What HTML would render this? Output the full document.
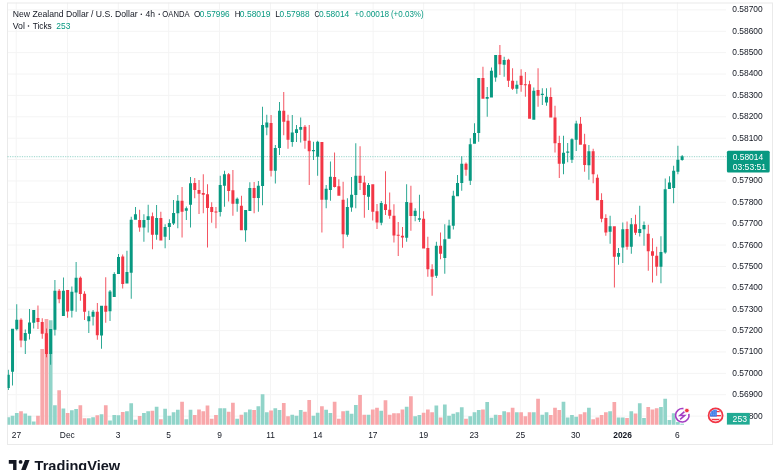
<!DOCTYPE html><html><head><meta charset="utf-8"><style>
html,body{margin:0;padding:0;background:#fff;width:780px;height:470px;overflow:hidden;}
svg{display:block;position:absolute;left:0;top:0;will-change:transform;}
text{font-family:"Liberation Sans", sans-serif;}
</style></head><body>
<svg width="780" height="470" viewBox="0 0 780 470">
<defs><clipPath id="pc"><rect x="7.5" y="2.5" width="719" height="422.5"/></clipPath></defs>
<path d="M7.5 9.90H726M7.5 31.28H726M7.5 52.66H726M7.5 74.04H726M7.5 95.42H726M7.5 116.80H726M7.5 138.18H726M7.5 159.56H726M7.5 180.94H726M7.5 202.32H726M7.5 223.70H726M7.5 245.08H726M7.5 266.46H726M7.5 287.84H726M7.5 309.22H726M7.5 330.60H726M7.5 351.98H726M7.5 373.36H726M7.5 394.74H726M7.5 416.12H726M16.2 2.5V425M67.5 2.5V425M118.3 2.5V425M168.7 2.5V425M219.5 2.5V425M270.5 2.5V425M317.5 2.5V425M373.1 2.5V425M423.6 2.5V425M474.1 2.5V425M520.4 2.5V425M575.6 2.5V425M622.6 2.5V425M677.4 2.5V425" stroke="#f4f4f4" stroke-width="1" fill="none"/>
<rect x="7.5" y="3" width="765" height="441.5" fill="none" stroke="#eaeaea" stroke-width="1"/>
<g clip-path="url(#pc)">
<path d="M6.45 417.20h3.70V424.70h-3.70ZM10.69 415.80h3.70V424.70h-3.70ZM14.93 413.00h3.70V424.70h-3.70ZM23.40 413.40h3.70V424.70h-3.70ZM27.64 415.80h3.70V424.70h-3.70ZM31.88 421.50h3.70V424.70h-3.70ZM48.83 320.20h3.70V424.70h-3.70ZM53.07 405.20h3.70V424.70h-3.70ZM61.54 408.40h3.70V424.70h-3.70ZM70.02 410.20h3.70V424.70h-3.70ZM74.26 409.00h3.70V424.70h-3.70ZM86.97 418.30h3.70V424.70h-3.70ZM91.21 417.30h3.70V424.70h-3.70ZM99.69 414.30h3.70V424.70h-3.70ZM108.16 420.50h3.70V424.70h-3.70ZM112.40 414.90h3.70V424.70h-3.70ZM116.64 415.30h3.70V424.70h-3.70ZM125.11 411.20h3.70V424.70h-3.70ZM129.35 403.20h3.70V424.70h-3.70ZM133.59 419.70h3.70V424.70h-3.70ZM142.07 413.00h3.70V424.70h-3.70ZM146.30 411.20h3.70V424.70h-3.70ZM154.78 406.70h3.70V424.70h-3.70ZM163.26 408.80h3.70V424.70h-3.70ZM167.49 415.80h3.70V424.70h-3.70ZM171.73 412.20h3.70V424.70h-3.70ZM175.97 409.70h3.70V424.70h-3.70ZM184.45 419.20h3.70V424.70h-3.70ZM188.68 409.70h3.70V424.70h-3.70ZM218.35 408.30h3.70V424.70h-3.70ZM222.59 408.30h3.70V424.70h-3.70ZM235.30 418.70h3.70V424.70h-3.70ZM243.78 412.20h3.70V424.70h-3.70ZM248.02 409.50h3.70V424.70h-3.70ZM256.49 406.20h3.70V424.70h-3.70ZM260.73 394.20h3.70V424.70h-3.70ZM264.97 412.20h3.70V424.70h-3.70ZM273.44 408.30h3.70V424.70h-3.70ZM277.68 410.00h3.70V424.70h-3.70ZM290.40 414.70h3.70V424.70h-3.70ZM294.63 415.80h3.70V424.70h-3.70ZM298.87 410.00h3.70V424.70h-3.70ZM311.59 415.80h3.70V424.70h-3.70ZM315.82 412.80h3.70V424.70h-3.70ZM324.30 409.70h3.70V424.70h-3.70ZM328.54 413.00h3.70V424.70h-3.70ZM345.49 410.80h3.70V424.70h-3.70ZM349.73 413.70h3.70V424.70h-3.70ZM353.97 405.00h3.70V424.70h-3.70ZM366.68 414.70h3.70V424.70h-3.70ZM379.39 410.80h3.70V424.70h-3.70ZM404.82 406.70h3.70V424.70h-3.70ZM413.30 416.20h3.70V424.70h-3.70ZM417.54 415.00h3.70V424.70h-3.70ZM434.49 405.50h3.70V424.70h-3.70ZM442.96 404.50h3.70V424.70h-3.70ZM447.20 415.80h3.70V424.70h-3.70ZM451.44 413.70h3.70V424.70h-3.70ZM455.68 412.20h3.70V424.70h-3.70ZM459.92 407.20h3.70V424.70h-3.70ZM468.39 416.20h3.70V424.70h-3.70ZM472.63 412.20h3.70V424.70h-3.70ZM476.87 410.00h3.70V424.70h-3.70ZM485.34 402.00h3.70V424.70h-3.70ZM489.58 417.80h3.70V424.70h-3.70ZM493.82 414.70h3.70V424.70h-3.70ZM502.30 411.20h3.70V424.70h-3.70ZM515.01 412.20h3.70V424.70h-3.70ZM531.96 412.20h3.70V424.70h-3.70ZM540.44 414.70h3.70V424.70h-3.70ZM544.68 412.20h3.70V424.70h-3.70ZM561.63 401.70h3.70V424.70h-3.70ZM565.87 417.50h3.70V424.70h-3.70ZM570.10 415.00h3.70V424.70h-3.70ZM574.34 416.70h3.70V424.70h-3.70ZM587.06 407.80h3.70V424.70h-3.70ZM608.25 411.20h3.70V424.70h-3.70ZM616.72 417.50h3.70V424.70h-3.70ZM620.96 417.50h3.70V424.70h-3.70ZM629.44 411.30h3.70V424.70h-3.70ZM637.91 403.30h3.70V424.70h-3.70ZM642.15 418.10h3.70V424.70h-3.70ZM659.10 407.00h3.70V424.70h-3.70ZM663.34 398.80h3.70V424.70h-3.70ZM667.58 419.90h3.70V424.70h-3.70ZM671.82 413.30h3.70V424.70h-3.70ZM676.05 422.00h3.70V424.70h-3.70ZM680.29 423.70h3.70V424.70h-3.70Z" fill="#91d4c9"/>
<path d="M19.16 411.20h3.70V424.70h-3.70ZM36.12 415.80h3.70V424.70h-3.70ZM40.35 349.00h3.70V424.70h-3.70ZM44.59 319.00h3.70V424.70h-3.70ZM57.31 390.20h3.70V424.70h-3.70ZM65.78 413.00h3.70V424.70h-3.70ZM78.50 405.20h3.70V424.70h-3.70ZM82.73 418.30h3.70V424.70h-3.70ZM95.45 415.30h3.70V424.70h-3.70ZM103.92 405.20h3.70V424.70h-3.70ZM120.88 412.10h3.70V424.70h-3.70ZM137.83 416.00h3.70V424.70h-3.70ZM150.54 410.80h3.70V424.70h-3.70ZM159.02 419.20h3.70V424.70h-3.70ZM180.21 401.70h3.70V424.70h-3.70ZM192.92 415.00h3.70V424.70h-3.70ZM197.16 409.50h3.70V424.70h-3.70ZM201.40 411.20h3.70V424.70h-3.70ZM205.64 405.50h3.70V424.70h-3.70ZM209.87 418.70h3.70V424.70h-3.70ZM214.11 415.00h3.70V424.70h-3.70ZM226.83 411.70h3.70V424.70h-3.70ZM231.06 402.80h3.70V424.70h-3.70ZM239.54 414.70h3.70V424.70h-3.70ZM252.25 410.00h3.70V424.70h-3.70ZM269.21 410.50h3.70V424.70h-3.70ZM281.92 403.00h3.70V424.70h-3.70ZM286.16 416.20h3.70V424.70h-3.70ZM303.11 411.70h3.70V424.70h-3.70ZM307.35 400.00h3.70V424.70h-3.70ZM320.06 406.20h3.70V424.70h-3.70ZM332.78 401.70h3.70V424.70h-3.70ZM337.01 418.80h3.70V424.70h-3.70ZM341.25 411.20h3.70V424.70h-3.70ZM358.20 395.00h3.70V424.70h-3.70ZM362.44 414.70h3.70V424.70h-3.70ZM370.92 409.50h3.70V424.70h-3.70ZM375.16 407.80h3.70V424.70h-3.70ZM383.63 400.30h3.70V424.70h-3.70ZM387.87 414.70h3.70V424.70h-3.70ZM392.11 413.30h3.70V424.70h-3.70ZM396.35 413.30h3.70V424.70h-3.70ZM400.58 409.50h3.70V424.70h-3.70ZM409.06 396.30h3.70V424.70h-3.70ZM421.77 412.80h3.70V424.70h-3.70ZM426.01 409.50h3.70V424.70h-3.70ZM430.25 412.20h3.70V424.70h-3.70ZM438.73 417.50h3.70V424.70h-3.70ZM464.15 418.70h3.70V424.70h-3.70ZM481.11 409.50h3.70V424.70h-3.70ZM498.06 415.00h3.70V424.70h-3.70ZM506.53 412.20h3.70V424.70h-3.70ZM510.77 407.80h3.70V424.70h-3.70ZM519.25 412.20h3.70V424.70h-3.70ZM523.49 416.20h3.70V424.70h-3.70ZM527.72 412.20h3.70V424.70h-3.70ZM536.20 398.80h3.70V424.70h-3.70ZM548.91 415.00h3.70V424.70h-3.70ZM553.15 407.80h3.70V424.70h-3.70ZM557.39 410.00h3.70V424.70h-3.70ZM578.58 414.20h3.70V424.70h-3.70ZM582.82 412.20h3.70V424.70h-3.70ZM591.29 419.20h3.70V424.70h-3.70ZM595.53 417.50h3.70V424.70h-3.70ZM599.77 415.00h3.70V424.70h-3.70ZM604.01 412.20h3.70V424.70h-3.70ZM612.48 402.00h3.70V424.70h-3.70ZM625.20 418.10h3.70V424.70h-3.70ZM633.67 413.50h3.70V424.70h-3.70ZM646.39 407.00h3.70V424.70h-3.70ZM650.63 409.60h3.70V424.70h-3.70ZM654.86 408.30h3.70V424.70h-3.70Z" fill="#f8a7aa"/>
<path d="M7.88 369.70h0.85V390.00h-0.85ZM6.80 374.70h3.00v13.30h-3.00ZM12.11 328.80h0.85V385.50h-0.85ZM11.04 328.80h3.00v42.90h-3.00ZM16.35 304.20h0.85V330.50h-0.85ZM15.28 319.70h3.00v9.50h-3.00ZM24.83 329.40h0.85V353.90h-0.85ZM23.75 333.10h3.00v7.60h-3.00ZM29.07 309.00h0.85V339.40h-0.85ZM27.99 322.60h3.00v11.10h-3.00ZM33.30 309.90h0.85V328.60h-0.85ZM32.23 309.90h3.00v12.80h-3.00ZM50.26 329.00h0.85V364.70h-0.85ZM49.18 329.00h3.00v24.90h-3.00ZM54.49 280.00h0.85V335.40h-0.85ZM53.42 290.80h3.00v39.00h-3.00ZM62.97 277.60h0.85V316.00h-0.85ZM61.89 290.80h3.00v25.20h-3.00ZM71.45 286.50h0.85V317.40h-0.85ZM70.37 291.70h3.00v19.00h-3.00ZM75.68 262.00h0.85V311.70h-0.85ZM74.61 277.80h3.00v14.70h-3.00ZM88.40 310.80h0.85V333.00h-0.85ZM87.32 316.30h3.00v4.90h-3.00ZM92.64 310.00h0.85V325.60h-0.85ZM91.56 311.70h3.00v5.00h-3.00ZM101.11 305.80h0.85V348.80h-0.85ZM100.04 305.80h3.00v29.60h-3.00ZM109.59 290.00h0.85V321.00h-0.85ZM108.51 291.40h3.00v19.90h-3.00ZM113.83 272.30h0.85V297.10h-0.85ZM112.75 273.90h3.00v23.20h-3.00ZM118.06 254.00h0.85V274.10h-0.85ZM116.99 257.00h3.00v17.10h-3.00ZM126.54 250.80h0.85V283.50h-0.85ZM125.46 272.00h3.00v11.50h-3.00ZM130.78 216.70h0.85V298.70h-0.85ZM129.70 219.70h3.00v53.00h-3.00ZM135.02 207.00h0.85V219.70h-0.85ZM133.94 214.20h3.00v5.50h-3.00ZM143.49 214.20h0.85V241.70h-0.85ZM142.42 220.00h3.00v7.50h-3.00ZM147.73 204.70h0.85V232.50h-0.85ZM146.65 216.20h3.00v3.80h-3.00ZM156.21 205.00h0.85V239.70h-0.85ZM155.13 218.00h3.00v16.70h-3.00ZM164.68 224.20h0.85V248.30h-0.85ZM163.61 227.00h3.00v9.70h-3.00ZM168.92 219.20h0.85V240.00h-0.85ZM167.84 223.00h3.00v4.00h-3.00ZM173.16 200.00h0.85V225.00h-0.85ZM172.08 213.00h3.00v10.50h-3.00ZM177.40 195.00h0.85V228.30h-0.85ZM176.32 200.80h3.00v12.50h-3.00ZM185.87 206.50h0.85V220.00h-0.85ZM184.80 208.20h3.00v2.60h-3.00ZM190.11 177.00h0.85V227.50h-0.85ZM189.03 183.30h3.00v21.40h-3.00ZM219.78 175.80h0.85V216.50h-0.85ZM218.70 185.00h3.00v27.00h-3.00ZM224.01 170.80h0.85V206.80h-0.85ZM222.94 174.20h3.00v11.60h-3.00ZM236.73 197.50h0.85V211.70h-0.85ZM235.65 198.70h3.00v5.00h-3.00ZM245.20 209.90h0.85V241.70h-0.85ZM244.13 209.90h3.00v20.30h-3.00ZM249.44 182.30h0.85V210.90h-0.85ZM248.37 188.10h3.00v22.80h-3.00ZM257.92 181.00h0.85V211.70h-0.85ZM256.84 185.80h3.00v12.10h-3.00ZM262.16 106.70h0.85V205.20h-0.85ZM261.08 125.00h3.00v61.00h-3.00ZM266.39 114.70h0.85V135.30h-0.85ZM265.32 122.50h3.00v5.00h-3.00ZM274.87 145.00h0.85V183.50h-0.85ZM273.79 148.00h3.00v22.80h-3.00ZM279.11 102.00h0.85V155.00h-0.85ZM278.03 110.80h3.00v37.20h-3.00ZM291.82 115.00h0.85V146.70h-0.85ZM290.75 132.50h3.00v9.50h-3.00ZM296.06 125.00h0.85V142.00h-0.85ZM294.98 129.20h3.00v3.80h-3.00ZM300.30 117.50h0.85V142.50h-0.85ZM299.22 127.00h3.00v2.70h-3.00ZM313.01 141.70h0.85V160.00h-0.85ZM311.94 150.00h3.00v1.30h-3.00ZM317.25 140.80h0.85V175.80h-0.85ZM316.17 141.70h3.00v15.00h-3.00ZM325.73 185.00h0.85V208.20h-0.85ZM324.65 188.70h3.00v11.00h-3.00ZM329.96 161.50h0.85V200.80h-0.85ZM328.89 176.70h3.00v13.30h-3.00ZM346.92 198.20h0.85V236.70h-0.85ZM345.84 207.00h3.00v27.70h-3.00ZM351.15 177.00h0.85V211.70h-0.85ZM350.08 194.70h3.00v12.80h-3.00ZM355.39 143.30h0.85V208.20h-0.85ZM354.32 175.80h3.00v19.20h-3.00ZM368.11 183.00h0.85V210.00h-0.85ZM367.03 185.00h3.00v11.70h-3.00ZM380.82 201.00h0.85V225.20h-0.85ZM379.74 203.00h3.00v19.80h-3.00ZM406.25 184.20h0.85V241.80h-0.85ZM405.17 202.00h3.00v35.80h-3.00ZM414.72 208.30h0.85V221.30h-0.85ZM413.65 210.80h3.00v5.20h-3.00ZM418.96 194.70h0.85V222.00h-0.85ZM417.89 218.20h3.00v1.50h-3.00ZM435.91 241.70h0.85V278.00h-0.85ZM434.84 245.80h3.00v30.00h-3.00ZM444.39 224.20h0.85V273.70h-0.85ZM443.31 239.20h3.00v18.80h-3.00ZM448.63 219.70h0.85V238.70h-0.85ZM447.55 225.50h3.00v13.20h-3.00ZM452.87 190.80h0.85V229.50h-0.85ZM451.79 195.80h3.00v30.00h-3.00ZM457.10 175.00h0.85V196.30h-0.85ZM456.03 183.00h3.00v13.30h-3.00ZM461.34 156.30h0.85V190.80h-0.85ZM460.27 163.70h3.00v19.30h-3.00ZM469.82 138.30h0.85V185.00h-0.85ZM468.74 144.20h3.00v36.60h-3.00ZM474.06 123.30h0.85V143.70h-0.85ZM472.98 133.00h3.00v10.70h-3.00ZM478.29 78.00h0.85V141.70h-0.85ZM477.22 78.00h3.00v55.00h-3.00ZM486.77 87.00h0.85V116.70h-0.85ZM485.69 97.00h3.00v1.70h-3.00ZM491.01 67.50h0.85V97.50h-0.85ZM489.93 70.80h3.00v26.70h-3.00ZM495.25 55.00h0.85V81.70h-0.85ZM494.17 55.00h3.00v22.50h-3.00ZM503.72 56.70h0.85V76.70h-0.85ZM502.65 60.00h3.00v4.70h-3.00ZM516.44 80.80h0.85V93.70h-0.85ZM515.36 84.70h3.00v4.00h-3.00ZM533.39 87.50h0.85V119.70h-0.85ZM532.31 90.80h3.00v28.90h-3.00ZM541.86 88.30h0.85V105.00h-0.85ZM540.79 93.70h3.00v1.30h-3.00ZM546.10 88.30h0.85V105.80h-0.85ZM545.03 96.70h3.00v5.80h-3.00ZM563.05 135.80h0.85V174.20h-0.85ZM561.98 152.80h3.00v10.90h-3.00ZM567.29 143.00h0.85V162.30h-0.85ZM566.22 151.50h3.00v1.30h-3.00ZM571.53 138.20h0.85V163.00h-0.85ZM570.45 139.20h3.00v20.50h-3.00ZM575.77 120.80h0.85V151.00h-0.85ZM574.69 123.50h3.00v16.20h-3.00ZM588.48 145.00h0.85V179.80h-0.85ZM587.41 151.30h3.00v14.00h-3.00ZM609.67 215.80h0.85V243.70h-0.85ZM608.60 226.30h3.00v5.40h-3.00ZM618.15 248.00h0.85V264.70h-0.85ZM617.07 253.00h3.00v3.70h-3.00ZM622.39 222.50h0.85V263.00h-0.85ZM621.31 229.20h3.00v18.30h-3.00ZM630.86 218.00h0.85V253.70h-0.85ZM629.79 224.20h3.00v22.50h-3.00ZM639.34 205.80h0.85V236.50h-0.85ZM638.26 229.00h3.00v4.00h-3.00ZM643.58 221.50h0.85V245.80h-0.85ZM642.50 225.00h3.00v4.20h-3.00ZM660.53 236.30h0.85V283.30h-0.85ZM659.45 252.00h3.00v14.70h-3.00ZM664.77 178.50h0.85V253.70h-0.85ZM663.69 189.20h3.00v63.30h-3.00ZM669.00 176.20h0.85V188.90h-0.85ZM667.93 182.50h3.00v6.40h-3.00ZM673.24 165.80h0.85V203.30h-0.85ZM672.17 170.80h3.00v17.20h-3.00ZM677.48 145.80h0.85V174.20h-0.85ZM676.40 159.70h3.00v12.00h-3.00ZM681.72 155.00h0.85V160.80h-0.85ZM680.64 156.30h3.00v3.70h-3.00Z" fill="#089981"/>
<path d="M20.59 318.30h0.85V347.20h-0.85ZM19.51 319.70h3.00v20.90h-3.00ZM37.54 305.50h0.85V329.00h-0.85ZM36.47 318.10h3.00v3.90h-3.00ZM41.78 318.20h0.85V338.80h-0.85ZM40.70 321.90h3.00v11.80h-3.00ZM46.02 328.40h0.85V357.30h-0.85ZM44.94 333.20h3.00v20.70h-3.00ZM58.73 289.00h0.85V303.30h-0.85ZM57.66 290.80h3.00v8.40h-3.00ZM67.21 290.00h0.85V317.70h-0.85ZM66.13 290.00h3.00v21.50h-3.00ZM79.92 276.40h0.85V300.80h-0.85ZM78.85 277.80h3.00v16.20h-3.00ZM84.16 291.30h0.85V320.00h-0.85ZM83.08 293.80h3.00v17.90h-3.00ZM96.87 303.00h0.85V339.70h-0.85ZM95.80 311.70h3.00v23.60h-3.00ZM105.35 277.30h0.85V322.80h-0.85ZM104.27 305.80h3.00v5.90h-3.00ZM122.30 254.50h0.85V288.40h-0.85ZM121.23 256.40h3.00v27.50h-3.00ZM139.25 209.70h0.85V231.70h-0.85ZM138.18 220.00h3.00v7.50h-3.00ZM151.97 212.50h0.85V249.20h-0.85ZM150.89 216.20h3.00v18.50h-3.00ZM160.44 211.80h0.85V240.50h-0.85ZM159.37 218.00h3.00v22.50h-3.00ZM181.63 187.00h0.85V237.50h-0.85ZM180.56 200.80h3.00v10.90h-3.00ZM194.35 178.00h0.85V198.30h-0.85ZM193.27 183.00h3.00v7.00h-3.00ZM198.59 180.00h0.85V214.00h-0.85ZM197.51 190.00h3.00v3.70h-3.00ZM202.82 174.20h0.85V213.30h-0.85ZM201.75 193.00h3.00v1.70h-3.00ZM207.06 184.20h0.85V247.50h-0.85ZM205.99 194.20h3.00v13.80h-3.00ZM211.30 202.30h0.85V222.80h-0.85ZM210.22 207.00h3.00v5.00h-3.00ZM215.54 207.00h0.85V228.30h-0.85ZM214.46 211.50h3.00v1.00h-3.00ZM228.25 173.00h0.85V201.50h-0.85ZM227.18 174.20h3.00v16.80h-3.00ZM232.49 170.00h0.85V215.80h-0.85ZM231.41 190.20h3.00v13.50h-3.00ZM240.97 195.70h0.85V230.20h-0.85ZM239.89 205.70h3.00v24.50h-3.00ZM253.68 181.90h0.85V213.30h-0.85ZM252.60 188.10h3.00v9.80h-3.00ZM270.63 115.00h0.85V176.50h-0.85ZM269.56 123.00h3.00v47.80h-3.00ZM283.35 92.00h0.85V135.30h-0.85ZM282.27 110.80h3.00v10.90h-3.00ZM287.58 114.70h0.85V148.70h-0.85ZM286.51 120.80h3.00v18.90h-3.00ZM304.54 125.00h0.85V148.70h-0.85ZM303.46 126.70h3.00v14.10h-3.00ZM308.77 125.00h0.85V185.00h-0.85ZM307.70 140.80h3.00v10.50h-3.00ZM321.49 142.00h0.85V232.50h-0.85ZM320.41 142.00h3.00v57.70h-3.00ZM334.20 152.50h0.85V187.50h-0.85ZM333.13 177.00h3.00v10.00h-3.00ZM338.44 179.20h0.85V195.80h-0.85ZM337.36 186.30h3.00v9.50h-3.00ZM342.68 181.70h0.85V248.30h-0.85ZM341.60 199.80h3.00v34.40h-3.00ZM359.63 146.30h0.85V190.00h-0.85ZM358.55 175.80h3.00v7.20h-3.00ZM363.87 175.80h0.85V217.80h-0.85ZM362.79 182.50h3.00v12.50h-3.00ZM372.34 184.20h0.85V220.50h-0.85ZM371.27 184.20h3.00v27.50h-3.00ZM376.58 204.00h0.85V229.00h-0.85ZM375.51 211.20h3.00v11.30h-3.00ZM385.06 171.30h0.85V215.00h-0.85ZM383.98 204.20h3.00v5.80h-3.00ZM389.30 192.50h0.85V218.70h-0.85ZM388.22 209.70h3.00v6.10h-3.00ZM393.53 204.20h0.85V242.50h-0.85ZM392.46 215.80h3.00v19.70h-3.00ZM397.77 222.00h0.85V256.00h-0.85ZM396.70 234.70h3.00v1.10h-3.00ZM402.01 227.00h0.85V247.80h-0.85ZM400.93 235.80h3.00v1.70h-3.00ZM410.49 185.80h0.85V230.80h-0.85ZM409.41 202.80h3.00v13.20h-3.00ZM423.20 211.30h0.85V248.50h-0.85ZM422.12 218.70h3.00v29.80h-3.00ZM427.44 236.70h0.85V276.70h-0.85ZM426.36 248.00h3.00v21.20h-3.00ZM431.68 264.20h0.85V295.80h-0.85ZM430.60 269.20h3.00v7.50h-3.00ZM440.15 232.50h0.85V259.20h-0.85ZM439.08 245.80h3.00v7.90h-3.00ZM465.58 162.50h0.85V175.80h-0.85ZM464.50 163.70h3.00v6.00h-3.00ZM482.53 66.70h0.85V98.70h-0.85ZM481.46 78.00h3.00v20.70h-3.00ZM499.48 45.00h0.85V75.00h-0.85ZM498.41 55.00h3.00v9.20h-3.00ZM507.96 58.70h0.85V87.00h-0.85ZM506.88 59.70h3.00v21.10h-3.00ZM512.20 68.30h0.85V90.00h-0.85ZM511.12 80.80h3.00v7.90h-3.00ZM520.67 69.20h0.85V91.70h-0.85ZM519.60 75.80h3.00v9.20h-3.00ZM524.91 72.00h0.85V96.70h-0.85ZM523.84 84.20h3.00v1.00h-3.00ZM529.15 80.80h0.85V118.70h-0.85ZM528.07 84.20h3.00v34.50h-3.00ZM537.62 68.30h0.85V106.70h-0.85ZM536.55 90.00h3.00v5.80h-3.00ZM550.34 87.50h0.85V117.50h-0.85ZM549.26 97.00h3.00v20.50h-3.00ZM554.58 105.80h0.85V152.50h-0.85ZM553.50 117.50h3.00v25.80h-3.00ZM558.82 135.80h0.85V178.00h-0.85ZM557.74 143.00h3.00v20.70h-3.00ZM580.01 117.00h0.85V144.70h-0.85ZM578.93 123.70h3.00v21.00h-3.00ZM584.24 133.70h0.85V171.70h-0.85ZM583.17 144.20h3.00v20.80h-3.00ZM592.72 148.70h0.85V183.30h-0.85ZM591.64 151.30h3.00v22.90h-3.00ZM596.96 174.40h0.85V200.30h-0.85ZM595.88 177.80h3.00v22.50h-3.00ZM601.20 193.30h0.85V222.30h-0.85ZM600.12 200.00h3.00v18.70h-3.00ZM605.43 214.20h0.85V235.80h-0.85ZM604.36 218.00h3.00v14.50h-3.00ZM613.91 226.30h0.85V287.50h-0.85ZM612.83 226.30h3.00v30.40h-3.00ZM626.62 221.50h0.85V249.70h-0.85ZM625.55 229.00h3.00v17.70h-3.00ZM635.10 214.70h0.85V235.00h-0.85ZM634.02 224.20h3.00v8.50h-3.00ZM647.81 224.80h0.85V270.80h-0.85ZM646.74 233.80h3.00v17.50h-3.00ZM652.05 238.20h0.85V282.50h-0.85ZM650.98 251.30h3.00v4.50h-3.00ZM656.29 246.70h0.85V275.80h-0.85ZM655.21 255.80h3.00v10.90h-3.00Z" fill="#f23645"/>
</g>
<line x1="7.5" y1="156.7" x2="727" y2="156.7" stroke="#089981" stroke-width="1" stroke-dasharray="1.2,1.2" stroke-opacity="0.42"/>
<text x="732.3" y="12.35" font-size="8.40" fill="#131722" textLength="30.4" lengthAdjust="spacingAndGlyphs">0.58700</text>
<text x="732.3" y="33.73" font-size="8.40" fill="#131722" textLength="30.4" lengthAdjust="spacingAndGlyphs">0.58600</text>
<text x="732.3" y="55.11" font-size="8.40" fill="#131722" textLength="30.4" lengthAdjust="spacingAndGlyphs">0.58500</text>
<text x="732.3" y="76.49" font-size="8.40" fill="#131722" textLength="30.4" lengthAdjust="spacingAndGlyphs">0.58400</text>
<text x="732.3" y="97.87" font-size="8.40" fill="#131722" textLength="30.4" lengthAdjust="spacingAndGlyphs">0.58300</text>
<text x="732.3" y="119.25" font-size="8.40" fill="#131722" textLength="30.4" lengthAdjust="spacingAndGlyphs">0.58200</text>
<text x="732.3" y="140.63" font-size="8.40" fill="#131722" textLength="30.4" lengthAdjust="spacingAndGlyphs">0.58100</text>
<text x="732.3" y="183.39" font-size="8.40" fill="#131722" textLength="30.4" lengthAdjust="spacingAndGlyphs">0.57900</text>
<text x="732.3" y="204.77" font-size="8.40" fill="#131722" textLength="30.4" lengthAdjust="spacingAndGlyphs">0.57800</text>
<text x="732.3" y="226.15" font-size="8.40" fill="#131722" textLength="30.4" lengthAdjust="spacingAndGlyphs">0.57700</text>
<text x="732.3" y="247.53" font-size="8.40" fill="#131722" textLength="30.4" lengthAdjust="spacingAndGlyphs">0.57600</text>
<text x="732.3" y="268.91" font-size="8.40" fill="#131722" textLength="30.4" lengthAdjust="spacingAndGlyphs">0.57500</text>
<text x="732.3" y="290.29" font-size="8.40" fill="#131722" textLength="30.4" lengthAdjust="spacingAndGlyphs">0.57400</text>
<text x="732.3" y="311.67" font-size="8.40" fill="#131722" textLength="30.4" lengthAdjust="spacingAndGlyphs">0.57300</text>
<text x="732.3" y="333.05" font-size="8.40" fill="#131722" textLength="30.4" lengthAdjust="spacingAndGlyphs">0.57200</text>
<text x="732.3" y="354.43" font-size="8.40" fill="#131722" textLength="30.4" lengthAdjust="spacingAndGlyphs">0.57100</text>
<text x="732.3" y="375.81" font-size="8.40" fill="#131722" textLength="30.4" lengthAdjust="spacingAndGlyphs">0.57000</text>
<text x="732.3" y="397.19" font-size="8.40" fill="#131722" textLength="30.4" lengthAdjust="spacingAndGlyphs">0.56900</text>
<text x="732.3" y="418.57" font-size="8.40" fill="#131722" textLength="30.4" lengthAdjust="spacingAndGlyphs">0.56800</text>
<rect x="726.9" y="150.8" width="42.8" height="21.8" rx="1.5" fill="#089981"/>
<text x="732.7" y="160.1" font-size="8.40" fill="#fff" textLength="30.4" lengthAdjust="spacingAndGlyphs">0.58014</text>
<text x="732.7" y="170.2" font-size="8.40" fill="#fff" textLength="33.4" lengthAdjust="spacingAndGlyphs">03:53:51</text>
<rect x="726.9" y="412.9" width="22.8" height="11.7" fill="#22ab94"/>
<text x="732.6" y="421.9" font-size="8.40" fill="#fff" textLength="14.4" lengthAdjust="spacingAndGlyphs">253</text>
<text x="16.4" y="438.1" font-size="8.40" fill="#131722" text-anchor="middle">27</text>
<text x="67.3" y="438.1" font-size="8.40" fill="#131722" text-anchor="middle">Dec</text>
<text x="118.2" y="438.1" font-size="8.40" fill="#131722" text-anchor="middle">3</text>
<text x="168.7" y="438.1" font-size="8.40" fill="#131722" text-anchor="middle">5</text>
<text x="219.5" y="438.1" font-size="8.40" fill="#131722" text-anchor="middle">9</text>
<text x="270.5" y="438.1" font-size="8.40" fill="#131722" text-anchor="middle">11</text>
<text x="317.7" y="438.1" font-size="8.40" fill="#131722" text-anchor="middle">14</text>
<text x="372.8" y="438.1" font-size="8.40" fill="#131722" text-anchor="middle">17</text>
<text x="423.6" y="438.1" font-size="8.40" fill="#131722" text-anchor="middle">19</text>
<text x="474.1" y="438.1" font-size="8.40" fill="#131722" text-anchor="middle">23</text>
<text x="520.4" y="438.1" font-size="8.40" fill="#131722" text-anchor="middle">25</text>
<text x="575.6" y="438.1" font-size="8.40" fill="#131722" text-anchor="middle">30</text>
<text x="622.6" y="438.1" font-size="8.40" fill="#131722" text-anchor="middle" font-weight="bold">2026</text>
<text x="677.4" y="438.1" font-size="8.40" fill="#131722" text-anchor="middle">6</text>
<text x="12.75" y="16.80" font-size="8.40" fill="#131722" font-weight="normal" textLength="124.90" lengthAdjust="spacingAndGlyphs">New Zealand Dollar / U.S. Dollar</text>
<text x="145.45" y="16.80" font-size="8.40" fill="#131722" font-weight="normal" textLength="9.50" lengthAdjust="spacingAndGlyphs">4h</text>
<text x="162.35" y="16.80" font-size="8.40" fill="#131722" font-weight="normal" textLength="27.20" lengthAdjust="spacingAndGlyphs">OANDA</text>
<text x="194.05" y="16.80" font-size="8.40" fill="#131722" font-weight="normal" textLength="6.40" lengthAdjust="spacingAndGlyphs">O</text>
<text x="199.85" y="16.80" font-size="8.40" fill="#089981" font-weight="normal" textLength="29.70" lengthAdjust="spacingAndGlyphs">0.57996</text>
<text x="234.65" y="16.80" font-size="8.40" fill="#131722" font-weight="normal" textLength="5.80" lengthAdjust="spacingAndGlyphs">H</text>
<text x="239.85" y="16.80" font-size="8.40" fill="#089981" font-weight="normal" textLength="30.70" lengthAdjust="spacingAndGlyphs">0.58019</text>
<text x="275.35" y="16.80" font-size="8.40" fill="#131722" font-weight="normal" textLength="4.70" lengthAdjust="spacingAndGlyphs">L</text>
<text x="279.55" y="16.80" font-size="8.40" fill="#089981" font-weight="normal" textLength="30.00" lengthAdjust="spacingAndGlyphs">0.57988</text>
<text x="314.45" y="16.80" font-size="8.40" fill="#131722" font-weight="normal" textLength="5.10" lengthAdjust="spacingAndGlyphs">C</text>
<text x="318.95" y="16.80" font-size="8.40" fill="#089981" font-weight="normal" textLength="30.30" lengthAdjust="spacingAndGlyphs">0.58014</text>
<text x="354.55" y="16.80" font-size="8.40" fill="#089981" font-weight="normal" textLength="34.50" lengthAdjust="spacingAndGlyphs">+0.00018</text>
<text x="390.95" y="16.80" font-size="8.40" fill="#089981" font-weight="normal" textLength="32.70" lengthAdjust="spacingAndGlyphs">(+0.03%)</text>
<circle cx="141.30" cy="14.20" r="0.75" fill="#131722"/>
<circle cx="159.20" cy="14.20" r="0.75" fill="#131722"/>
<text x="12.75" y="28.60" font-size="8.40" fill="#131722" font-weight="normal" textLength="12.10" lengthAdjust="spacingAndGlyphs">Vol</text>
<text x="32.65" y="28.60" font-size="8.40" fill="#131722" font-weight="normal" textLength="19.10" lengthAdjust="spacingAndGlyphs">Ticks</text>
<text x="56.25" y="28.60" font-size="8.40" fill="#089981" font-weight="normal" textLength="14.10" lengthAdjust="spacingAndGlyphs">253</text>
<circle cx="28.50" cy="26.00" r="0.75" fill="#131722"/>
<circle cx="682.3" cy="415.3" r="7.4" fill="#fff"/>
<path d="M683.47 408.65 A6.75 6.75 0 1 0 688.90 413.90" fill="none" stroke="#a43fc3" stroke-width="1.6"/>
<path d="M684.5 411.7L680.0 415.5H684.6L680.1 419.3" fill="none" stroke="#a43fc3" stroke-width="1.6" stroke-linejoin="miter" stroke-miterlimit="3"/>
<circle cx="686.9" cy="410.5" r="2.3" fill="#f23645" stroke="#fff" stroke-width="0.8"/>
<circle cx="715.6" cy="415.4" r="7.0" fill="#fff" stroke="#f23645" stroke-width="1.8"/>
<clipPath id="fc"><circle cx="715.5" cy="415.2" r="5.6"/></clipPath>
<g clip-path="url(#fc)">
<rect x="709" y="409" width="14" height="13" fill="#fff"/>
<rect x="709" y="410.90" width="14" height="1.30" fill="#f23645"/>
<rect x="709" y="415.00" width="14" height="1.40" fill="#f23645"/>
<rect x="709" y="418.80" width="14" height="1.60" fill="#f23645"/>
<rect x="709" y="409" width="7.8" height="7.6" fill="#3f7ee8"/>
<circle cx="711.3" cy="411.0" r="0.45" fill="#bcd3fb"/>
<circle cx="713.2" cy="411.0" r="0.45" fill="#bcd3fb"/>
<circle cx="715.1" cy="411.0" r="0.45" fill="#bcd3fb"/>
<circle cx="711.3" cy="412.9" r="0.45" fill="#bcd3fb"/>
<circle cx="713.2" cy="412.9" r="0.45" fill="#bcd3fb"/>
<circle cx="715.1" cy="412.9" r="0.45" fill="#bcd3fb"/>
<circle cx="711.3" cy="414.8" r="0.45" fill="#bcd3fb"/>
<circle cx="713.2" cy="414.8" r="0.45" fill="#bcd3fb"/>
<circle cx="715.1" cy="414.8" r="0.45" fill="#bcd3fb"/>
</g>
<g fill="#131722">
<path d="M8.8 460H16.5V471H13.1V463.8H8.8Z"/>
<circle cx="20.6" cy="461.9" r="1.9"/>
<path d="M25 460H29.6L25.4 471H20.8Z"/>
</g>
<text x="34.6" y="470.6" font-size="14.6" font-weight="bold" fill="#131722" textLength="85.6" lengthAdjust="spacingAndGlyphs">TradingView</text>
</svg></body></html>
